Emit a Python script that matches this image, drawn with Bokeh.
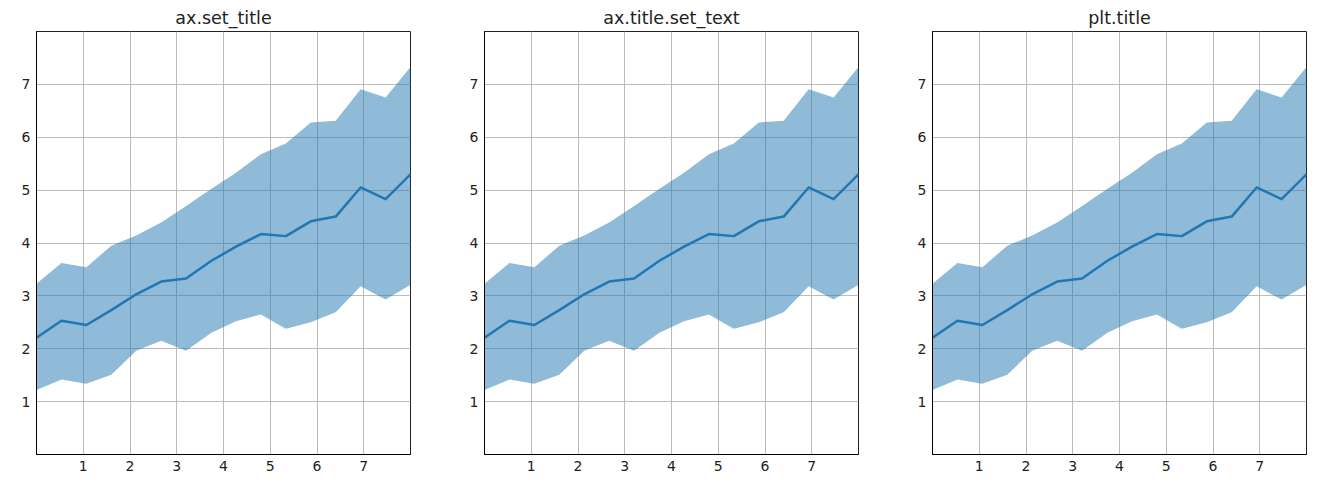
from bokeh.plotting import figure
from bokeh.layouts import row
from bokeh.models import Range1d, FixedTicker
from bokeh.embed import file_html
from bokeh.resources import INLINE

titles = ["ax.set_title", "ax.title.set_text", "plt.title"]
x = [0.0, 0.533, 1.067, 1.6, 2.133, 2.667, 3.2, 3.733, 4.267, 4.8, 5.333, 5.867, 6.4, 6.933, 7.467, 8.0]
mid = [2.21, 2.53, 2.45, 2.73, 3.03, 3.27, 3.33, 3.66, 3.93, 4.17, 4.13, 4.41, 4.50, 5.05, 4.83, 5.30]
upper = [3.23, 3.62, 3.54, 3.95, 4.14, 4.39, 4.70, 5.02, 5.33, 5.68, 5.88, 6.28, 6.31, 6.91, 6.75, 7.33]
lower = [1.22, 1.42, 1.34, 1.51, 1.96, 2.15, 1.96, 2.30, 2.52, 2.65, 2.38, 2.50, 2.69, 3.18, 2.93, 3.21]
ticks = [1, 2, 3, 4, 5, 6, 7]

FONT = "DejaVu Sans"
BLUE = "#1f77b4"

figs = []
for i, t in enumerate(titles):
    last = i == len(titles) - 1
    w = 423 if last else 448
    p = figure(width=w, height=486, output_backend="svg", toolbar_location=None,
               x_range=Range1d(0, 8), y_range=Range1d(0, 8), title=t,
               min_border_left=36, min_border_right=(13 if last else 38),
               min_border_top=31, min_border_bottom=32)
    p.title.align = "center"
    p.title.text_font = FONT
    p.title.text_font_size = "17.5px"
    p.title.text_font_style = "normal"
    p.title.text_color = "#222222"
    p.title.standoff = 8
    p.title.offset = 0
    p.background_fill_color = "white"
    p.border_fill_color = "white"
    p.outline_line_color = "#222222"
    p.outline_line_width = 1

    p.varea(x=x, y1=lower, y2=upper, fill_color=BLUE, fill_alpha=0.5)
    p.line(x, mid, line_color=BLUE, line_width=2.5, line_join="round")

    for ax in (p.xaxis[0], p.yaxis[0]):
        ax.ticker = FixedTicker(ticks=ticks)
        ax.major_tick_in = 0
        ax.major_tick_out = 0
        ax.minor_tick_in = 0
        ax.minor_tick_out = 0
        ax.axis_line_color = "black"
        ax.axis_line_width = 1
        ax.major_label_text_font = FONT
        ax.major_label_text_font_size = "14px"
        ax.major_label_text_color = "#222222"
        ax.major_label_standoff = 6
    for g in (p.xgrid[0], p.ygrid[0]):
        g.ticker = FixedTicker(ticks=ticks)
        g.grid_line_color = "#bcbcbc"
        g.grid_line_width = 1

    figs.append(p)

layout = row(*figs)
open("out.html", "w").write(file_html(layout, INLINE))
